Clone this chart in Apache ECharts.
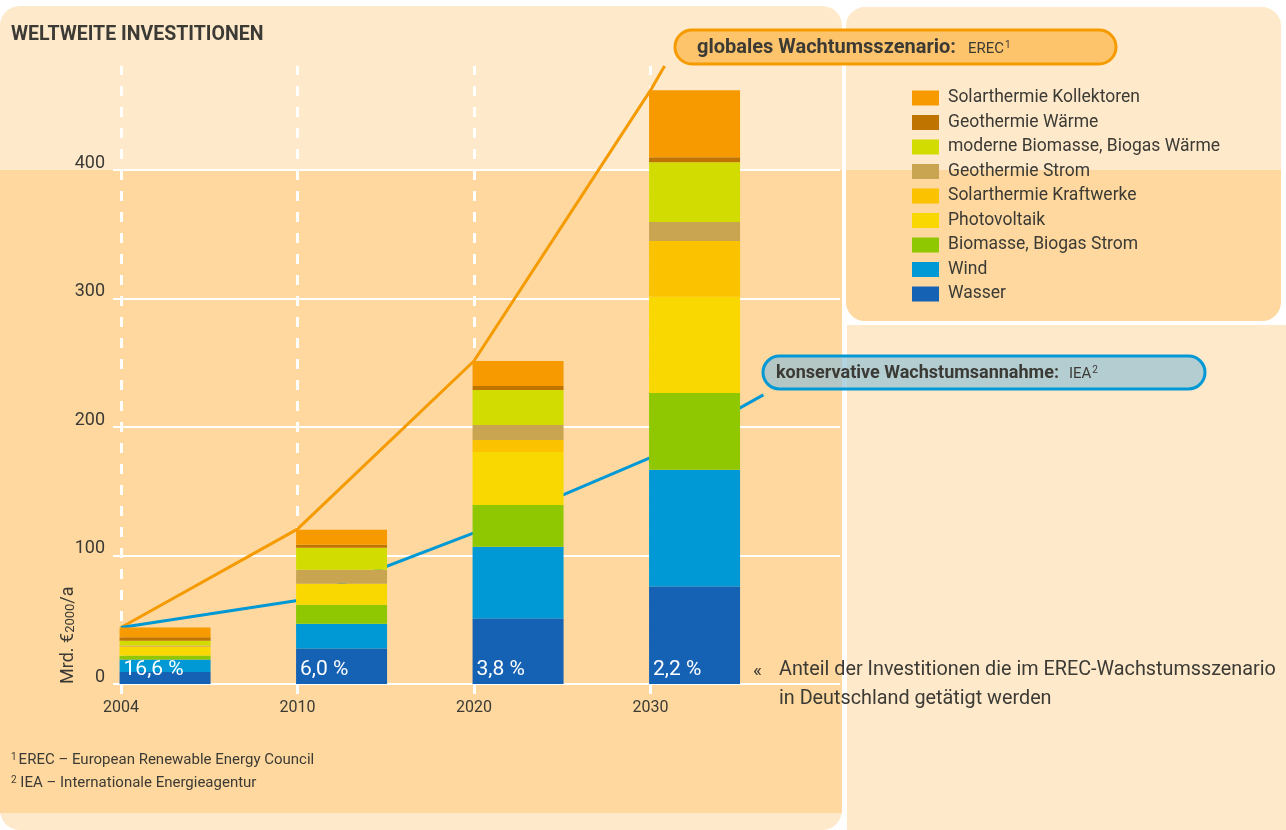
<!DOCTYPE html>
<html><head><meta charset="utf-8">
<script src="https://cdn.jsdelivr.net/npm/echarts@6/dist/echarts.min.js"></script>
<style>html,body{margin:0;padding:0;background:#fff}#c{width:1286px;height:830px}</style>
</head><body><div id="c"></div>
<script>
// ---- data ----
const years = ['2004', '2010', '2020', '2030'];
const yTicks = [0, 100, 200, 300, 400];
const wasser           = [9.3, 27.4, 50.8, 75.7];
const wind             = [9.8, 19.5, 56.0, 91.0];
const biomasseStrom    = [3.1, 14.8, 32.6, 59.8];
const photovoltaik     = [6.6, 16.3, 41.2, 74.9];
const solarKraftwerke  = [0.4, 0.0, 9.4, 43.3];
const geoStrom         = [0.8, 10.9, 11.6, 14.8];
const biomasseWaerme   = [3.7, 17.1, 27.2, 46.6];
const geoWaerme        = [2.6, 2.3, 3.2, 3.9];
const solarKollektoren = [7.7, 11.7, 19.4, 52.1];
const shareDE = ['16,6 %', '6,0 %', '3,8 %', '2,2 %'];
const erecLine = [44, 120.5, 251.4, 462];
const erecArrowEnd = [3.08, 481];
const ieaLine = [44, 65, 117.7, 176.2];
const ieaArrowEnd = [3.64, 225];

// ---- style ----
const FONT = 'Roboto, "Noto Sans", sans-serif';
const TXT = '#3b3a35';
const LIGHT = '#fee9ca';
const DARK = '#fed89e';
const BAR_SHIFT = 0.25;

const segments = [
  ['Wasser', wasser, '#1561b3'],
  ['Wind', wind, '#0099d5'],
  ['Biomasse, Biogas Strom', biomasseStrom, '#8fc800'],
  ['Photovoltaik', photovoltaik, '#f8d800'],
  ['Solarthermie Kraftwerke', solarKraftwerke, '#fbc200'],
  ['Geothermie Strom', geoStrom, '#c9a552'],
  ['moderne Biomasse, Biogas Wärme', biomasseWaerme, '#d2dc00'],
  ['Geothermie Wärme', geoWaerme, '#bf7400'],
  ['Solarthermie Kollektoren', solarKollektoren, '#f69a00']
];

// value first, position second -> the value dimension is the stacked one
const barSeries = segments.map(([name, vals, color], k) => ({
  name, type: 'bar', stack: 'total', barWidth: 91, z: k === 0 ? 4 : 3,
  silent: true,
  encode: { x: 1, y: 0 },
  itemStyle: { color },
  data: vals.map((v, i) => [v, i + BAR_SHIFT]),
  label: k === 0 ? {
    show: true, position: 'insideBottomLeft', distance: 4,
    formatter: p => shareDE[p.dataIndex], color: '#fff',
    fontFamily: FONT, fontSize: 21
  } : { show: false }
}));

const lineSeries = [
  {
    name: 'EREC', type: 'line', z: 2, clip: false, silent: true,
    symbol: 'none', lineStyle: { color: '#f59b00', width: 3 },
    data: erecLine.map((v, i) => [i, v]).concat([erecArrowEnd])
  },
  {
    name: 'IEA', type: 'line', z: 2, clip: false, silent: true,
    symbol: 'none', lineStyle: { color: '#0099d5', width: 3 },
    data: ieaLine.map((v, i) => [i, v]).concat([ieaArrowEnd]),
    markLine: {
      z: 1, silent: true, symbol: 'none', label: { show: false },
      lineStyle: { color: '#fff', type: [10, 11], width: 3 },
      data: years.map((y, i) => ({ xAxis: i }))
    }
  }
];

const chart = echarts.init(document.getElementById('c'), null, { renderer: 'canvas' });
chart.setOption({
  animation: false,
  backgroundColor: '#fff',
  textStyle: { fontFamily: FONT },
  title: {
    text: 'WELTWEITE INVESTITIONEN', left: 11, top: 25, padding: 0,
    textStyle: { fontFamily: FONT, fontSize: 19.5, fontWeight: 'bold', color: TXT }
  },
  legend: {
    left: 907, top: 84, orient: 'vertical', itemWidth: 27, itemHeight: 15, itemGap: 6.5,
    icon: 'rect', selectedMode: false,
    data: segments.map(s => s[0]).reverse(),
    textStyle: { fontFamily: FONT, fontSize: 17.5, color: TXT, padding: [0, 0, 0, 4] }
  },
  grid: { left: 113, right: 446, top: 66, bottom: 146 },
  xAxis: {
    type: 'value', min: -0.045, max: 4.074,
    axisLine: { show: false },
    splitLine: { show: false },
    axisTick: { show: true, customValues: [0, 1, 2, 3], length: 10, inside: false,
      lineStyle: { color: '#fff', width: 3 } },
    axisLabel: { customValues: [0, 1, 2, 3], formatter: v => years[Math.round(v)] || '',
      fontFamily: FONT, fontSize: 16, color: TXT, margin: 16 }
  },
  yAxis: {
    type: 'value', min: 0, max: 481, interval: 100,
    axisLine: { show: false }, axisTick: { show: false },
    axisLabel: { formatter: v => (yTicks.includes(v) ? String(v) : ''), showMaxLabel: false,
      fontFamily: FONT, fontSize: 18, color: TXT, margin: 8, verticalAlign: 'bottom',
      lineHeight: 10, padding: [0, 0, 2, 0] },
    splitLine: { show: true, showMaxLine: false, lineStyle: { color: '#fff', width: 2 } }
  },
  graphic: [
    { type: 'rect', z: -5, shape: { x: 0, y: 6, width: 842, height: 824, r: 20 }, style: { fill: LIGHT } },
    { type: 'rect', z: -5, shape: { x: 0, y: 170, width: 842, height: 643 }, style: { fill: DARK } },
    { type: 'rect', z: -5, shape: { x: 847, y: 325, width: 439, height: 505 }, style: { fill: LIGHT } },
    { type: 'rect', z: -5, shape: { x: 845, y: 6, width: 437, height: 316, r: 20 },
      style: { stroke: '#fff', lineWidth: 2,
        fill: new echarts.graphic.LinearGradient(0, 0, 0, 1, [
          { offset: 0, color: LIGHT }, { offset: 0.519, color: LIGHT },
          { offset: 0.519, color: DARK }, { offset: 1, color: DARK }]) } },
    // EREC box
    { type: 'rect', z: 10, shape: { x: 675, y: 30, width: 441, height: 34, r: 17 },
      style: { fill: '#fec46c', stroke: '#f59b00', lineWidth: 3 } },
    { type: 'text', z: 11, x: 697, y: 48,
      style: { text: '{b|globales Wachtumsszenario:}{r|EREC}{s|1}', verticalAlign: 'middle',
        rich: {
          b: { fontFamily: FONT, fontSize: 20, fontWeight: 'bold', fill: TXT, lineHeight: 24 },
          r: { fontFamily: FONT, fontSize: 15, fill: TXT, padding: [3, 0, 0, 12], lineHeight: 24 },
          s: { fontFamily: FONT, fontSize: 10, fill: TXT, padding: [0, 0, 6, 1], lineHeight: 24 }
        } } },
    // IEA box
    { type: 'rect', z: 10, shape: { x: 763, y: 356, width: 442, height: 33, r: 16.5 },
      style: { fill: 'rgba(148,193,212,0.7)', stroke: '#0099d5', lineWidth: 3 } },
    { type: 'text', z: 11, x: 776, y: 373,
      style: { text: '{b|konservative Wachstumsannahme:}{r|IEA}{s|2}', verticalAlign: 'middle',
        rich: {
          b: { fontFamily: FONT, fontSize: 18, fontWeight: 'bold', fill: TXT, lineHeight: 24 },
          r: { fontFamily: FONT, fontSize: 15, fill: TXT, padding: [3, 0, 0, 10], lineHeight: 24 },
          s: { fontFamily: FONT, fontSize: 10, fill: TXT, padding: [0, 0, 6, 1], lineHeight: 24 }
        } } },
    // share note
    { type: 'text', z: 11, x: 753, y: 671,
      style: { text: '«', fontFamily: FONT, fontSize: 19, fill: TXT, verticalAlign: 'middle' } },
    { type: 'text', z: 11, x: 779, y: 656,
      style: { text: 'Anteil der Investitionen die im EREC-Wachstumsszenario\nin Deutschland getätigt werden',
        fontFamily: FONT, fontSize: 19.8, fill: TXT, lineHeight: 29, verticalAlign: 'top' } },
    // footnotes
    { type: 'text', z: 11, x: 11, y: 760,
      style: { text: '{s|1}{t|EREC – European Renewable Energy Council}', verticalAlign: 'middle',
        rich: { s: { fontFamily: FONT, fontSize: 10, fill: TXT, padding: [0, 2, 5, 0], lineHeight: 20 },
                t: { fontFamily: FONT, fontSize: 15, fill: TXT, lineHeight: 20 } } } },
    { type: 'text', z: 11, x: 11, y: 783,
      style: { text: '{s|2}{t| IEA – Internationale Energieagentur}', verticalAlign: 'middle',
        rich: { s: { fontFamily: FONT, fontSize: 10, fill: TXT, padding: [0, 0, 5, 0], lineHeight: 20 },
                t: { fontFamily: FONT, fontSize: 15, fill: TXT, lineHeight: 20 } } } },
    // y axis name
    { type: 'text', z: 11, x: 68, y: 684, rotation: Math.PI / 2,
      style: { text: '{m|Mrd. €}{s|2000}{m|/a}', align: 'left', verticalAlign: 'middle',
        rich: { m: { fontFamily: FONT, fontSize: 18, fill: TXT, lineHeight: 22 },
                s: { fontFamily: FONT, fontSize: 13, fill: TXT, lineHeight: 22, padding: [6, 0, 0, 0] } } } }
  ],
  series: barSeries.concat(lineSeries)
});
</script>
</body></html>
